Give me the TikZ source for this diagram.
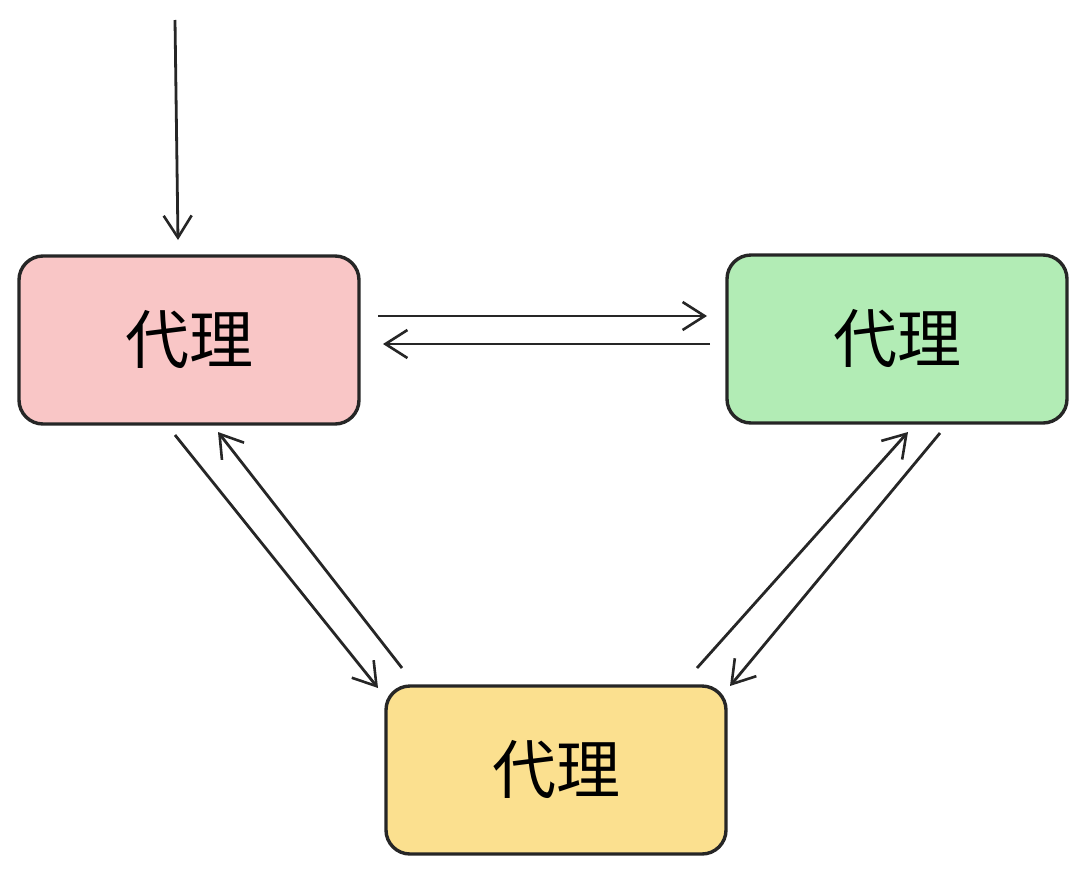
\documentclass[tikz,border=0pt]{standalone}
\usepackage{fontspec}
\newfontfamily\cjk{Noto Sans CJK SC}
\usetikzlibrary{arrows.meta}
\definecolor{redf}{HTML}{F9C6C6}
\definecolor{greenf}{HTML}{B2ECB5}
\definecolor{yellowf}{HTML}{FBE08F}
\begin{document}
\begin{tikzpicture}[x=1pt,y=-1pt,
  box/.style={draw=black!85,line width=3.4pt,rounded corners=24pt,minimum width=340pt,minimum height=168pt,inner sep=0pt,font=\cjk\fontsize{64}{70}\selectfont},
  arr/.style={draw=black!85,line width=2.8pt,-{Straight Barb[length=22pt,width=28pt,line width=2.6pt]}}]
\useasboundingbox (0,0) rectangle (1086,873);
\node[box,fill=redf] (r) at (189,340) {代理};
\node[box,fill=greenf] (g) at (897,339) {代理};
\node[box,fill=yellowf] (y) at (556,770) {代理};
\coordinate (t0) at (175,20);
\coordinate (t1) at (178,240);
\draw[arr] (t0) -- (t1);
\coordinate (a1) at (378,316); \coordinate (a2) at (707,316);
\coordinate (b1) at (710,344); \coordinate (b2) at (383,344);
\draw[arr] (a1) -- (a2);
\draw[arr] (b1) -- (b2);
\coordinate (c1) at (175,435); \coordinate (c2) at (378,688);
\coordinate (d1) at (402,668); \coordinate (d2) at (218,432);
\draw[arr] (c1) -- (c2);
\draw[arr] (d1) -- (d2);
\coordinate (e1) at (940,433); \coordinate (e2) at (730,686);
\coordinate (f1) at (697,668); \coordinate (f2) at (908,432);
\draw[arr] (e1) -- (e2);
\draw[arr] (f1) -- (f2);
\end{tikzpicture}
\end{document}
